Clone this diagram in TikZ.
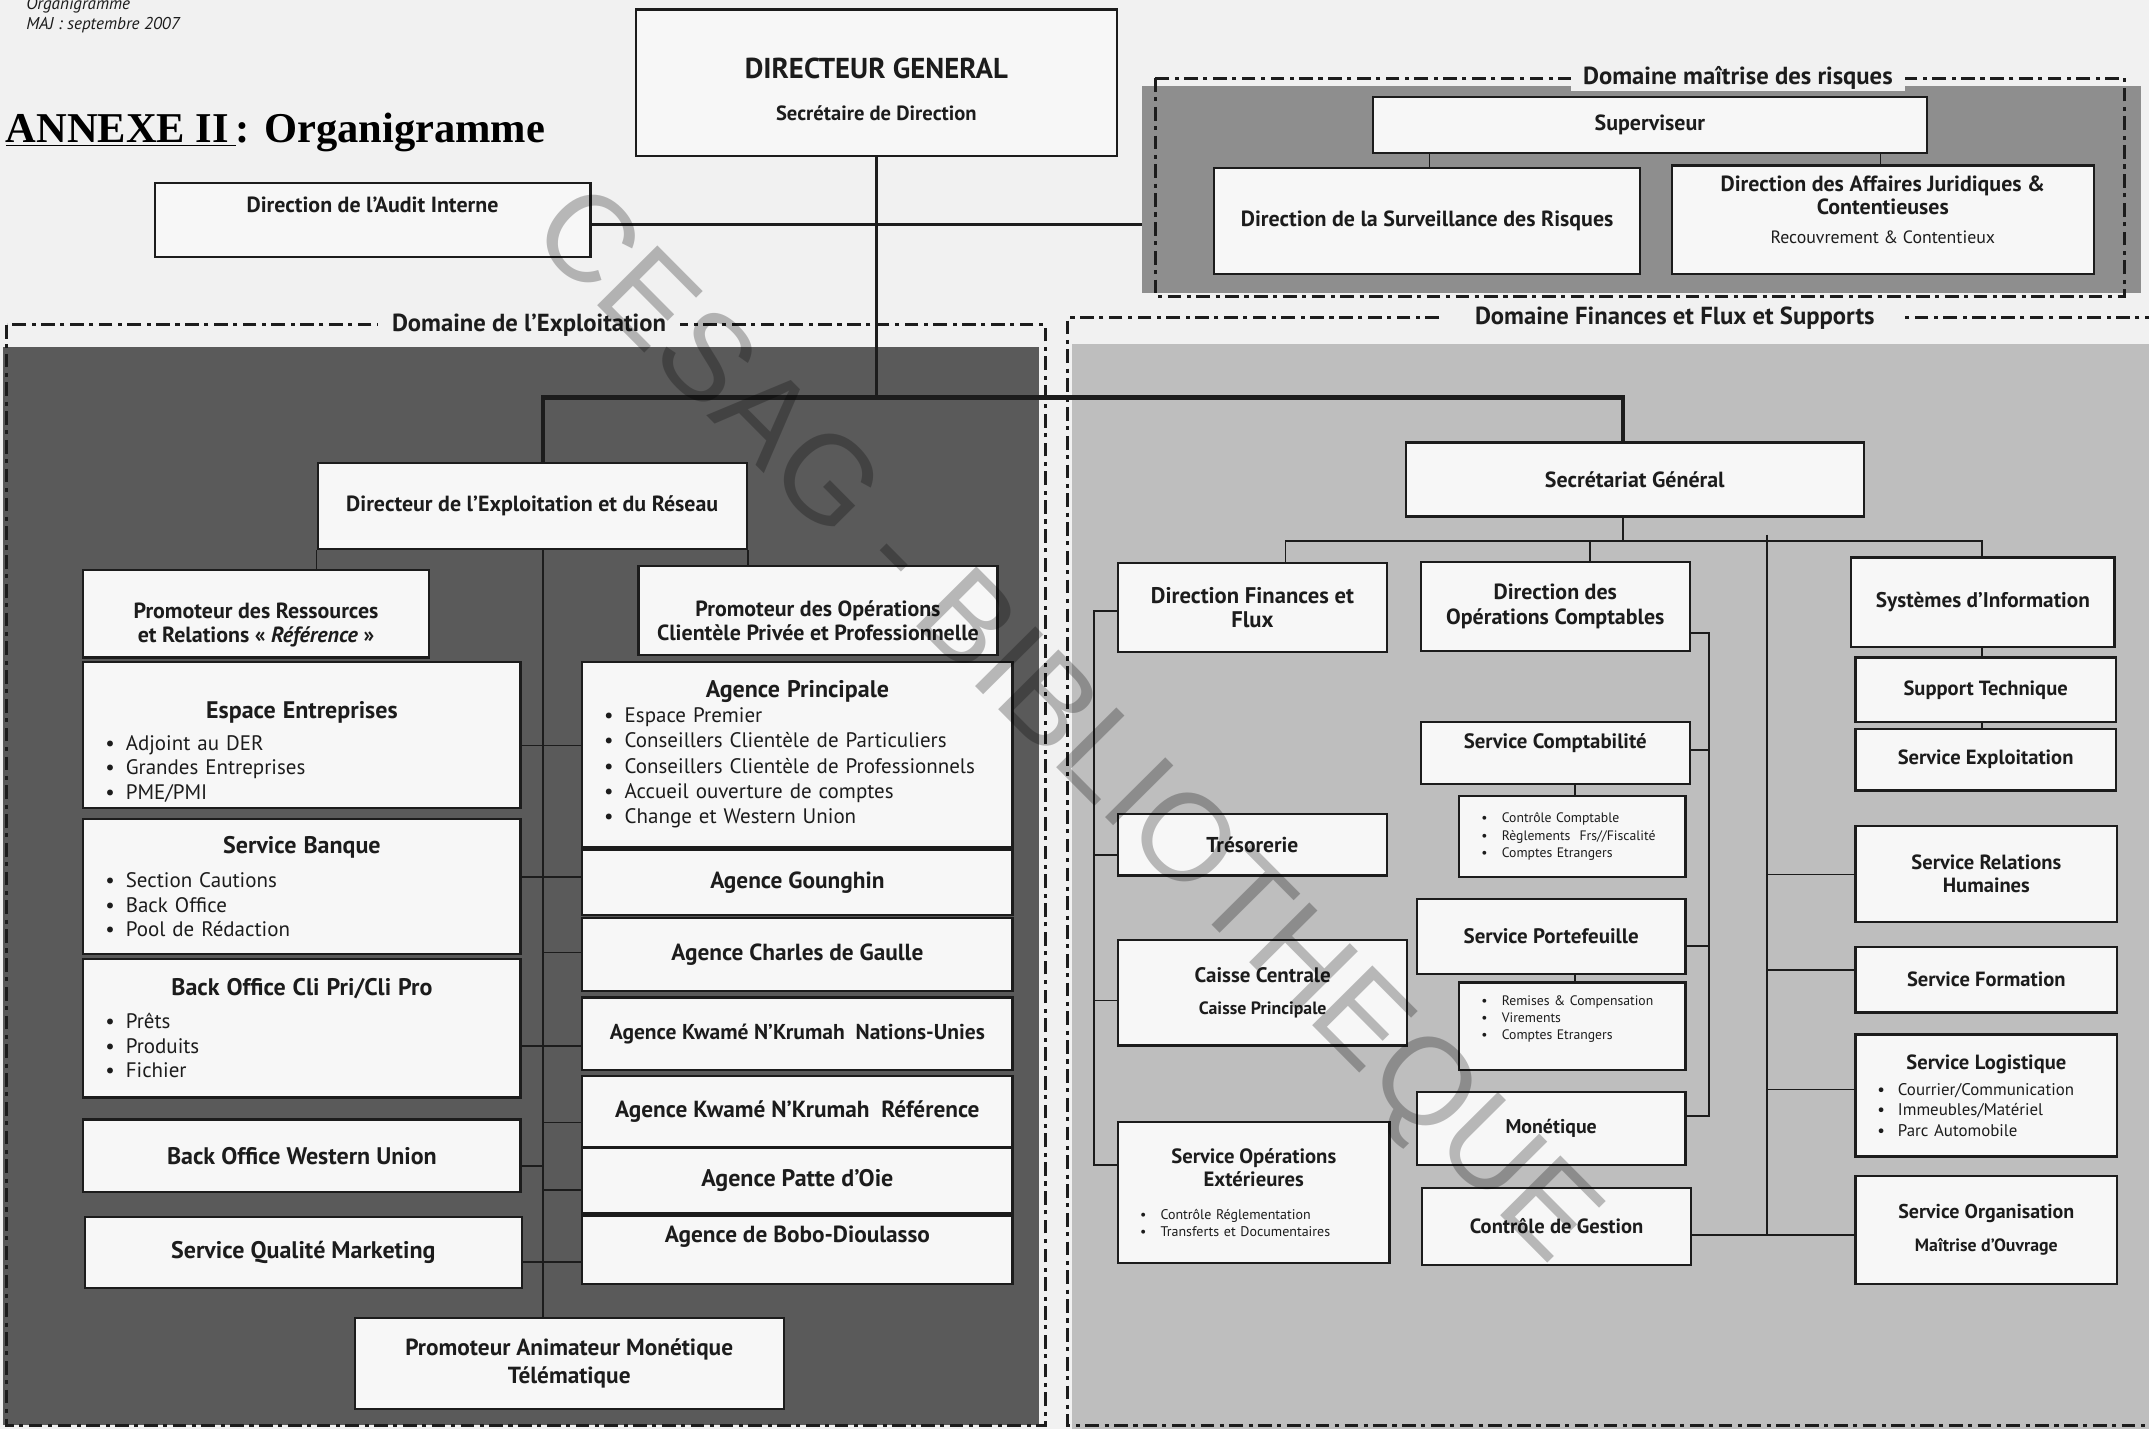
\documentclass[tikz,border=0pt]{standalone}
\usepackage{fontspec}
\setmainfont{PT Sans}
\newfontfamily\serifttl{Liberation Serif}
\newfontfamily\wmfont{Liberation Sans}
\usepackage{tikz}
\usetikzlibrary{positioning}

\definecolor{pagebg}{HTML}{F1F1F1}
\definecolor{zonedark}{HTML}{5A5A5A}
\definecolor{zonemid}{HTML}{8E8E8E}
\definecolor{zonelight}{HTML}{BEBEBE}
\definecolor{boxfill}{HTML}{F7F7F7}
\definecolor{ink}{HTML}{1C1C1C}

\newcommand{\itm}[1]{\noindent\hspace*{12pt}\makebox[15pt][l]{\textbullet}#1\par}
\newcommand{\btitle}[1]{{\centering\bfseries #1\par}}

\begin{document}
\begin{tikzpicture}[x=1pt,y=-1pt]
    \tikzstyle{box}=[draw=ink,line width=1.6pt,fill=boxfill,anchor=north west,
        inner xsep=4pt,inner ysep=2pt,align=center,text=ink,
        font=\bfseries\fontsize{16}{17.5}\selectfont]
    \tikzstyle{listbox}=[box,align=left,font=\fontsize{15.3}{18}\selectfont]
    \tikzstyle{link}=[draw=ink,line width=1.3pt]
    \tikzstyle{trunk}=[draw=ink,line width=1.9pt]
    \tikzstyle{bus}=[draw=ink,line width=3pt]
    \tikzstyle{zone}=[draw=ink,line width=2.2pt,dash pattern=on 10pt off 4pt on 3pt off 4pt]
    \tikzstyle{zonelabel}=[fill=pagebg,inner xsep=10pt,inner ysep=1pt,text=ink,
        font=\bfseries\fontsize{18}{20}\selectfont]

    \useasboundingbox (0,0) rectangle (1568,1043);
    \fill[pagebg] (0,0) rectangle (1568,1043);

    % zones
    \fill[zonemid] (833,63) rectangle (1562,214);
    \fill[zonedark] (2,253) rectangle (758,1040);
    \fill[zonelight] (782,251) rectangle (1568,1043);
    \coordinate (riskedge) at (833,164);
    \draw[zone] (843,57) rectangle (1550,216);
    \draw[zone] (5,237) rectangle (763,1040);
    \draw[zone] (1575,232) -- (779,232) -- (779,1040) -- (1575,1040);
    \node[zonelabel,inner xsep=9pt] (lrisk) at (1268,57) {Domaine maîtrise des risques};
    \node[zonelabel] (lexp) at (386,237) {Domaine de l'Exploitation};
    \node[zonelabel,inner xsep=22pt] (lfin) at (1222,232) {Domaine Finances et Flux et Supports};

    % heading
    \node[anchor=west,inner sep=0pt,text=ink,font=\itshape\fontsize{12.5}{14}\selectfont] (orgtag) at (19,4) {Organigramme};
    \node[anchor=west,inner sep=0pt,text=ink,font=\itshape\fontsize{12.5}{14}\selectfont] (majtag) at (19,18) {MAJ : septembre 2007};
    \node[anchor=west,inner sep=0pt,text=black,font=\serifttl\bfseries\fontsize{31}{36}\selectfont] (annexe) at (4,97) {\underline{ANNEXE II\,}: Organigramme};

    % direction
    \node[box,line width=1.8pt,minimum width=351pt,minimum height=107pt] (dg) at (463,6)
        {{\fontsize{21}{24}\selectfont\rule{0pt}{25pt}DIRECTEUR GENERAL}\\[13pt]{\fontsize{15}{17}\selectfont Secrétaire de Direction}};
    \node[box,minimum width=318pt,minimum height=54pt,text height=12pt,text depth=23pt] (audit) at (112,133) {Direction de l'Audit Interne};

    % risques
    \node[box,minimum width=404pt,minimum height=41pt] (sup) at (1001,70) {Superviseur};
    \node[box,minimum width=311pt,minimum height=77pt] (risq) at (885,122) {Direction de la Surveillance des Risques};
    \node[box,minimum width=308pt,minimum height=79pt,font=\bfseries\fontsize{16}{16.5}\selectfont] (jur) at (1219,120)
        {Direction des Affaires Juridiques \&\\Contentieuses\\[5pt]{\mdseries\fontsize{13}{15}\selectfont Recouvrement \& Contentieux\rule[-14pt]{0pt}{1pt}}};

    % exploitation
    \node[box,minimum width=313pt,minimum height=63pt] (der) at (231,337) {Directeur de l'Exploitation et du Réseau};
    \node[box,minimum width=252pt,minimum height=64pt] (prr) at (60,415) {\rule{0pt}{28pt}Promoteur des Ressources\\et Relations « \textit{Référence} »};
    \node[box,minimum width=262pt,minimum height=65pt] (pop) at (465,412) {\rule{0pt}{27pt}Promoteur des Opérations\\Clientèle Privée et Professionnelle};
    \node[listbox,minimum width=319pt,minimum height=107pt,text width=311pt] (ee) at (60,482)
        {\btitle{\fontsize{17.5}{20}\selectfont\rule{0pt}{37pt}Espace Entreprises}\vspace{5pt}\itm{Adjoint au DER}\itm{Grandes Entreprises}\itm{PME/PMI}};
    \node[listbox,minimum width=319pt,minimum height=98pt,text width=311pt] (sb) at (60,597)
        {\btitle{\fontsize{17.5}{20}\selectfont Service Banque}\vspace{7pt}\itm{Section Cautions}\itm{Back Office}\itm{Pool de Rédaction}};
    \node[listbox,minimum width=319pt,minimum height=101pt,text width=311pt] (bo) at (60,699)
        {\btitle{\fontsize{17.5}{20}\selectfont Back Office Cli Pri/Cli Pro}\vspace{6pt}\itm{Prêts}\itm{Produits}\itm{Fichier}};
    \node[box,minimum width=319pt,minimum height=53pt,font=\bfseries\fontsize{17.5}{20}\selectfont] (bwu) at (60,816) {Back Office Western Union};
    \node[box,minimum width=319pt,minimum height=52pt,font=\bfseries\fontsize{17.5}{20}\selectfont] (sqm) at (61,887) {Service Qualité Marketing};
    \node[listbox,minimum width=314pt,minimum height=135pt,text width=306pt,font=\fontsize{15.3}{18.3}\selectfont] (ap) at (424,482)
        {\btitle{\fontsize{17.5}{20}\selectfont Agence Principale}\itm{Espace Premier}\itm{Conseillers Clientèle de Particuliers}\itm{Conseillers Clientèle de Professionnels}\itm{Accueil ouverture de comptes}\itm{Change et Western Union}};
    \node[box,minimum width=314pt,minimum height=48pt,font=\bfseries\fontsize{17}{20}\selectfont] (agg) at (424,619) {Agence Gounghin};
    \node[box,minimum width=314pt,minimum height=53pt,font=\bfseries\fontsize{17}{20}\selectfont] (acg) at (424,669) {Agence Charles de Gaulle};
    \node[box,minimum width=314pt,minimum height=53pt,font=\bfseries\fontsize{15.7}{18}\selectfont] (akn) at (424,727) {Agence Kwamé N'Krumah~~Nations-Unies};
    \node[box,minimum width=314pt,minimum height=52pt,font=\bfseries\fontsize{17}{20}\selectfont] (akr) at (424,784) {Agence Kwamé N'Krumah~~Référence};
    \node[box,minimum width=314pt,minimum height=47pt,font=\bfseries\fontsize{17.5}{20}\selectfont] (apo) at (424,837) {Agence Patte d'Oie};
    \node[box,minimum width=314pt,minimum height=50pt,font=\bfseries\fontsize{17}{20}\selectfont,text height=12pt,text depth=23pt] (abd) at (424,886) {Agence de Bobo-Dioulasso};
    \node[box,minimum width=313pt,minimum height=66pt,font=\bfseries\fontsize{17}{20}\selectfont] (pam) at (258,961) {Promoteur Animateur Monétique\\Télématique};

    % finances
    \node[box,minimum width=334pt,minimum height=54pt] (sg) at (1025,322) {Secrétariat Général};
    \node[box,minimum width=196pt,minimum height=65pt,font=\bfseries\fontsize{16.5}{18}\selectfont] (dff) at (815,410) {Direction Finances et\\Flux};
    \node[box,minimum width=196pt,minimum height=65pt,font=\bfseries\fontsize{16}{18}\selectfont] (doc) at (1036,409) {Direction des\\Opérations Comptables};
    \node[box,minimum width=192pt,minimum height=65pt,font=\bfseries\fontsize{15.5}{18}\selectfont] (si) at (1350,406) {Systèmes d'Information};
    \node[box,minimum width=190pt,minimum height=47pt,font=\bfseries\fontsize{15}{17}\selectfont] (st) at (1353,479) {Support Technique};
    \node[box,minimum width=190pt,minimum height=45pt,font=\bfseries\fontsize{15}{17}\selectfont] (se) at (1353,531) {Service Exploitation};
    \node[box,minimum width=196pt,minimum height=45pt,font=\bfseries\fontsize{15.2}{17}\selectfont,text height=11pt,text depth=17pt] (scpt) at (1036,526) {Service Comptabilité};
    \node[listbox,minimum width=165pt,minimum height=59pt,text width=157pt,font=\fontsize{10}{12.5}\selectfont] (scsub) at (1064,580)
        {\itm{Contrôle Comptable}\itm{Règlements~ Frs//Fiscalité}\itm{Comptes Etrangers}};
    \node[box,minimum width=196pt,minimum height=45pt,font=\bfseries\fontsize{15.7}{17}\selectfont] (tres) at (815,593) {Trésorerie};
    \node[box,minimum width=196pt,minimum height=55pt,font=\bfseries\fontsize{15.3}{17}\selectfont] (spf) at (1033,655) {Service Portefeuille};
    \node[listbox,minimum width=165pt,minimum height=64pt,text width=157pt,font=\fontsize{10}{12.5}\selectfont] (spsub) at (1064,716)
        {\itm{Remises \& Compensation}\itm{Virements}\itm{Comptes Etrangers}\vspace{10pt}};
    \node[box,minimum width=196pt,minimum height=53pt,font=\bfseries\fontsize{14.5}{17}\selectfont] (mon) at (1033,796) {Monétique};
    \node[box,minimum width=196pt,minimum height=56pt,font=\bfseries\fontsize{15}{17}\selectfont] (cg) at (1037,866) {Contrôle de Gestion};
    \node[box,minimum width=211pt,minimum height=77pt,font=\bfseries\fontsize{15.3}{17}\selectfont] (cc) at (815,685)
        {Caisse Centrale\\[6pt]{\fontsize{13}{15}\selectfont Caisse Principale}};
    \node[listbox,minimum width=198pt,minimum height=103pt,text width=190pt,font=\fontsize{10.2}{13}\selectfont] (soe) at (815,818)
        {\btitle{\fontsize{15.1}{16.5}\selectfont Service Opérations\\Extérieures}\vspace{11pt}\itm{Contrôle Réglementation}\itm{Transferts et Documentaires}};
    \node[box,minimum width=191pt,minimum height=70pt,font=\bfseries\fontsize{15}{17}\selectfont] (srh) at (1353,602) {Service Relations\\Humaines};
    \node[box,minimum width=191pt,minimum height=48pt,font=\bfseries\fontsize{15}{17}\selectfont] (sf) at (1353,690) {Service Formation};
    \node[listbox,minimum width=191pt,minimum height=89pt,text width=183pt,font=\fontsize{12.3}{15}\selectfont] (slog) at (1353,754)
        {\btitle{\fontsize{15}{17}\selectfont Service Logistique}\vspace{4pt}\itm{Courrier/Communication}\itm{Immeubles/Matériel}\itm{Parc Automobile}};
    \node[box,minimum width=191pt,minimum height=79pt,font=\bfseries\fontsize{14.6}{17}\selectfont] (sorg) at (1353,857)
        {Service Organisation\\[7pt]{\fontsize{13}{15}\selectfont Maîtrise d'Ouvrage}};

    % connectors, direction
    \coordinate (busL) at (396,290);
    \coordinate (busR) at (1184,290);
    \draw[trunk] (dg.south) -- (dg.south |- busL);
    \draw[trunk] (audit.east |- riskedge) -- (riskedge);
    \draw[bus] (der.north -| busL) -- (busL) -- (busR) -- (sg.north -| busR);
    \draw[link] (sup.south -| 1043,0) -- (risq.north -| 1043,0);
    \draw[link] (sup.south -| 1372,0) -- (jur.north -| 1372,0);

    % connectors, exploitation
    \coordinate (vE) at (396,400);
    \draw[link] (der.south west) -- (der.south west |- prr.north);
    \draw[link] (der.south east) -- (der.south east |- pop.north);
    \draw[link] (der.south -| vE) -- (pam.north -| vE);
    \draw[link] (ee.east |- 0,544) -- (ap.west |- 0,544);
    \draw[link] (sb.east |- 0,640) -- (agg.west |- 0,640);
    \draw[link] (vE |- 0,695) -- (acg.west |- 0,695);
    \draw[link] (bo.east |- 0,763) -- (akn.west |- 0,763);
    \draw[link] (vE |- 0,819) -- (akr.west |- 0,819);
    \draw[link] (bwu.east |- 0,851) -- (vE |- 0,851);
    \draw[link] (vE |- 0,868) -- (apo.west |- 0,868);
    \draw[link] (sqm.east |- 0,921) -- (abd.west |- 0,921);

    % connectors, finances
    \coordinate (vF) at (1184,395);
    \coordinate (bF1) at (938,395);
    \coordinate (bF2) at (1446,395);
    \coordinate (bF3) at (1160,395);
    \coordinate (vR) at (1289,390);
    \coordinate (vL) at (798,446);
    \coordinate (vD) at (1247,462);
    \draw[link] (sg.south -| vF) -- (vF);
    \draw[link] (bF1 |- dff.north) -- (bF1) -- (bF2) -- (bF2 |- si.north);
    \draw[link] (bF3) -- (bF3 |- doc.north);
    \draw[link] (vR) -- (vR |- 0,901);
    \draw[link] (si.south -| bF2) -- (st.north -| bF2);
    \draw[link] (st.south -| bF2) -- (se.north -| bF2);
    \draw[link] (vR |- 0,638) -- (srh.west |- 0,638);
    \draw[link] (vR |- 0,708) -- (sf.west |- 0,708);
    \draw[link] (vR |- 0,795) -- (slog.west |- 0,795);
    \draw[link] (cg.east |- 0,901) -- (sorg.west |- 0,901);
    \draw[link] (dff.west |- vL) -- (vL) -- (vL |- 0,850) -- (soe.west |- 0,850);
    \draw[link] (vL |- 0,624) -- (tres.west |- 0,624);
    \draw[link] (vL |- 0,730) -- (cc.west |- 0,730);
    \draw[link] (doc.east |- vD) -- (vD) -- (vD |- 0,814) -- (mon.east |- 0,814);
    \draw[link] (scpt.east |- 0,547) -- (vD |- 0,547);
    \draw[link] (spf.east |- 0,690) -- (vD |- 0,690);
    \draw[link] (scpt.south -| 1149,0) -- (scsub.north -| 1149,0);
    \draw[link] (spf.south -| 1149,0) -- (spsub.north -| 1149,0);

    % watermark
    \node[rotate=-45.2,text=black,text opacity=0.26,font=\wmfont\fontsize{90}{90}\selectfont] (wmark) at (775,532) {CESAG - BIBLIOTHEQUE};
\end{tikzpicture}
\end{document}
